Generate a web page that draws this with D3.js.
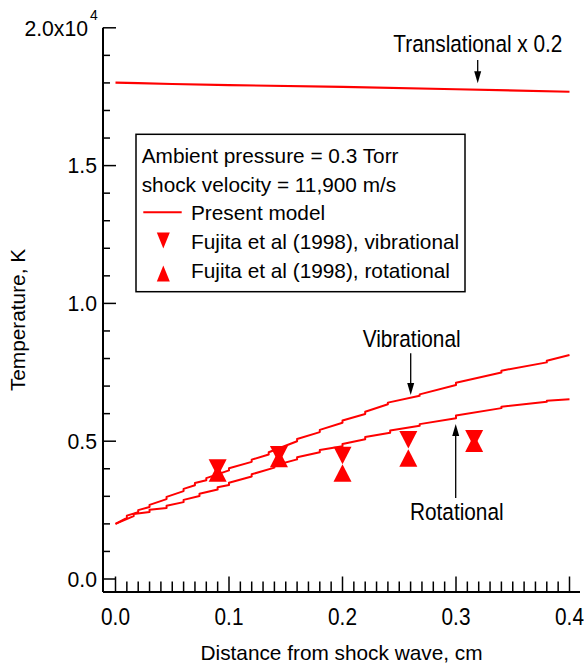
<!DOCTYPE html>
<html><head><meta charset="utf-8">
<script src="https://cdn.jsdelivr.net/npm/d3@7"></script>
<style>
html,body{margin:0;padding:0;background:#fff;}
text{font-family:"Liberation Sans",Arial,Helvetica,sans-serif;fill:#000;}
</style></head>
<body><svg id="c" width="584" height="665"></svg>
<script>
// ---- data ----
const xTickValues = [0, 0.1, 0.2, 0.3, 0.4];
const xTickLabels = ["0.0", "0.1", "0.2", "0.3", "0.4"];
const yTickValues = [0, 5000, 10000, 15000, 20000];
const yTickLabels = ["0.0", "0.5", "1.0", "1.5", "2.0x10"];

// Translational temperature (x 0.2), K
const transX = [0, 0.02, 0.05, 0.1, 0.2, 0.3, 0.4];
const transT = [18010, 17990, 17960, 17920, 17860, 17770, 17680];

// Vibrational temperature, present model (small steps visible in the curve)
const vibX = [0, 0.01, 0.01, 0.02, 0.02, 0.03, 0.03, 0.045, 0.045, 0.06, 0.06, 0.07, 0.07, 0.08, 0.08,
  0.10, 0.10, 0.12, 0.12, 0.135, 0.135, 0.16, 0.16, 0.18, 0.18, 0.20, 0.20, 0.22, 0.22,
  0.24, 0.24, 0.268, 0.268, 0.30, 0.30, 0.34, 0.34, 0.38, 0.38, 0.40];
const vibT = [2000, 2220, 2300, 2420, 2500, 2610, 2690, 2900, 2980, 3190, 3270, 3400, 3480, 3580, 3660,
  3940, 4020, 4250, 4330, 4520, 4600, 5000, 5080, 5330, 5410, 5670, 5750, 5990, 6070,
  6340, 6400, 6650, 6700, 7040, 7120, 7490, 7560, 7860, 7920, 8130];

// Rotational temperature, present model
const rotX = [0, 0.016, 0.016, 0.03, 0.03, 0.045, 0.045, 0.06, 0.06, 0.074, 0.074, 0.09, 0.09, 0.10, 0.10,
  0.12, 0.12, 0.14, 0.14, 0.16, 0.16, 0.18, 0.18, 0.20, 0.20, 0.22, 0.22, 0.242, 0.242,
  0.268, 0.268, 0.30, 0.30, 0.34, 0.34, 0.38, 0.38, 0.40];
const rotT = [2000, 2280, 2360, 2430, 2510, 2580, 2660, 2790, 2870, 3010, 3090, 3250, 3330, 3410, 3490,
  3720, 3800, 4040, 4120, 4340, 4420, 4600, 4680, 4820, 4900, 5070, 5150, 5310, 5390,
  5560, 5620, 5830, 5930, 6200, 6250, 6430, 6470, 6520];

// Fujita et al (1998) measurements
const fujitaX = [0.09, 0.144, 0.2, 0.258, 0.316];
const fujitaVib = [4030, 4510, 4480, 5050, 5090];
const fujitaRot = [3850, 4370, 3850, 4390, 4930];

const legendHeader = ["Ambient pressure = 0.3 Torr", "shock velocity = 11,900 m/s"];
const legendLabels = ["Present model", "Fujita et al (1998), vibrational", "Fujita et al (1998), rotational"];

// ---- drawing ----
const svg = d3.select("#c");
const red = "#ff0000";
const x = d3.scaleLinear().domain([0, 0.4]).range([115.5, 569.5]);
const y = d3.scaleLinear().domain([0, 20000]).range([579, 27.8]);
const axisX = 103, axisY = 592;
const FS = 20.8;

function stretched(sel, tx, ty, txt, k, anchor, fs) {
  return sel.append("text").attr("transform", `translate(${tx},${ty}) scale(1,${k})`)
    .attr("text-anchor", anchor || "start").attr("font-size", fs || FS).text(txt);
}

// axes lines
svg.append("line").attr("x1", axisX).attr("x2", axisX).attr("y1", y(20000)).attr("y2", axisY)
  .attr("stroke", "#000").attr("stroke-width", 2);
svg.append("line").attr("x1", axisX).attr("x2", 580).attr("y1", axisY).attr("y2", axisY)
  .attr("stroke", "#000").attr("stroke-width", 2);

// x ticks (pointing up)
const xMinor = d3.range(0, 41).map(i => i / 100);
svg.append("g").selectAll("line").data(xMinor).join("line")
  .attr("x1", d => x(d)).attr("x2", d => x(d))
  .attr("y1", axisY).attr("y2", (d, i) => i % 10 === 0 ? axisY - 15.5 : axisY - 10.5)
  .attr("stroke", "#000").attr("stroke-width", 1.5);
const gx = svg.append("g");
xTickValues.forEach((v, i) => stretched(gx, x(v), 625, xTickLabels[i], 1.12, "middle"));

// y ticks (pointing right)
const yMinor = d3.range(0, 21).map(i => i * 1000);
svg.append("g").selectAll("line").data(yMinor).join("line")
  .attr("y1", d => y(d)).attr("y2", d => y(d))
  .attr("x1", axisX).attr("x2", (d, i) => i % 5 === 0 ? axisX + 13 : axisX + 7)
  .attr("stroke", "#000").attr("stroke-width", 1.5);
svg.append("g").selectAll("text").data(yTickValues).join("text")
  .attr("y", d => y(d) + 7.8).attr("font-size", 21.2).attr("text-anchor", "end")
  .attr("x", (d, i) => i === 4 ? 88 : 97).text((d, i) => yTickLabels[i]);
svg.append("text").attr("x", 90).attr("y", y(20000) - 8).attr("font-size", 14).text("4");

// axis titles
svg.append("text").attr("x", 341.5).attr("y", 660).attr("text-anchor", "middle")
  .attr("font-size", FS).text("Distance from shock wave, cm");
svg.append("text").attr("transform", "translate(25,320) rotate(-90)").attr("text-anchor", "middle")
  .attr("font-size", FS).text("Temperature, K");

// curves
const line = d3.line().x(d => x(d[0])).y(d => y(d[1]));
svg.append("path").datum(d3.zip(transX, transT)).attr("d", line)
  .attr("fill", "none").attr("stroke", red).attr("stroke-width", 2.2);
svg.append("path").datum(d3.zip(vibX, vibT)).attr("d", line)
  .attr("fill", "none").attr("stroke", red).attr("stroke-width", 2).attr("stroke-linejoin", "round");
svg.append("path").datum(d3.zip(rotX, rotT)).attr("d", line)
  .attr("fill", "none").attr("stroke", red).attr("stroke-width", 2).attr("stroke-linejoin", "round");

// triangle markers
function tri(down, w, h) {
  const p = d3.path();
  if (down) { p.moveTo(-w / 2, -h / 2); p.lineTo(w / 2, -h / 2); p.lineTo(0, h / 2); }
  else { p.moveTo(-w / 2, h / 2); p.lineTo(w / 2, h / 2); p.lineTo(0, -h / 2); }
  p.closePath();
  return p.toString();
}
const mk = svg.append("g");
mk.selectAll("path.v").data(d3.zip(fujitaX, fujitaVib)).join("path").attr("class", "v")
  .attr("transform", d => `translate(${x(d[0])},${y(d[1])})`).attr("d", tri(true, 18, 17.5)).attr("fill", red);
mk.selectAll("path.r").data(d3.zip(fujitaX, fujitaRot)).join("path").attr("class", "r")
  .attr("transform", d => `translate(${x(d[0])},${y(d[1])})`).attr("d", tri(false, 18, 17.5)).attr("fill", red);

// legend
const lg = svg.append("g");
lg.append("rect").attr("x", 136).attr("y", 134.3).attr("width", 329).attr("height", 157.4)
  .attr("fill", "#fff").attr("stroke", "#000").attr("stroke-width", 1.5);
lg.selectAll("text.h").data(legendHeader).join("text").attr("class", "h")
  .attr("x", 141.7).attr("y", (d, i) => 163 + i * 28.7).attr("font-size", FS).text(d => d);
lg.selectAll("text.e").data(legendLabels).join("text").attr("class", "e")
  .attr("x", 191).attr("y", (d, i) => 220 + i * 28.8).attr("font-size", FS).text(d => d);
lg.append("line").attr("x1", 143.3).attr("x2", 181.7).attr("y1", 212.3).attr("y2", 212.3)
  .attr("stroke", red).attr("stroke-width", 2);
lg.append("path").attr("transform", "translate(163.3,240.5)").attr("d", tri(true, 13, 16)).attr("fill", red);
lg.append("path").attr("transform", "translate(163.3,273.5)").attr("d", tri(false, 13, 16)).attr("fill", red);

// annotations with arrows
function arrow(x0, yFrom, yTip) {
  const dir = yTip > yFrom ? 1 : -1;
  svg.append("line").attr("x1", x0).attr("x2", x0).attr("y1", yFrom).attr("y2", yTip - dir * 10)
    .attr("stroke", "#000").attr("stroke-width", 1.3);
  svg.append("path").attr("d", `M${x0 - 3.5},${yTip - dir * 12}L${x0 + 3.5},${yTip - dir * 12}L${x0},${yTip}Z`).attr("fill", "#000");
}
stretched(svg, 393.3, 51.7, "Translational x 0.2", 1.16);
arrow(477.7, 60, 83.3);
stretched(svg, 362.7, 346.7, "Vibrational", 1.16);
arrow(410.7, 353.3, 395);
stretched(svg, 410, 520, "Rotational", 1.16);
arrow(455.7, 498, 424);
</script></body></html>
